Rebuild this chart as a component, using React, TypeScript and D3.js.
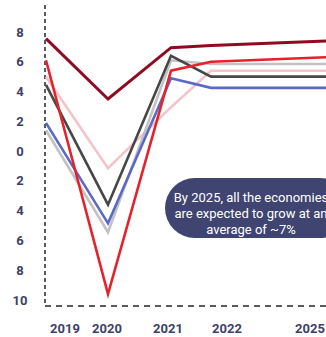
import React from "react";
import * as d3 from "d3";

const years = [2019, 2020, 2021, 2022, 2025];
const yTicks = [8, 6, 4, 2, 0, -2, -4, -6, -8, -10];

const darkRed = [7.55, 3.5, 6.95, 7.1, 7.45];
const red = [6.1, -9.6, 5.4, 6.0, 6.35];
const pink = [5.0, -1.15, 2.95, 5.4, 5.4];
const gray = [1.4, -5.45, 6.1, 5.85, 5.85];
const blue = [1.9, -4.85, 4.9, 4.25, 4.25];
const black = [4.45, -3.6, 6.4, 5.0, 5.0];

const calloutLines = [
  "By 2025, all the economies",
  "are expected to grow at an",
  "average of ~7%",
];

const series = [
  { name: "pink", values: pink, color: "#f5c4ca", width: 2.6 },
  { name: "gray", values: gray, color: "#c2c2c4", width: 2.6 },
  { name: "blue", values: blue, color: "#5b69c6", width: 2.6 },
  { name: "black", values: black, color: "#474747", width: 2.6 },
  { name: "red", values: red, color: "#e5222c", width: 2.6 },
  { name: "darkRed", values: darkRed, color: "#8e0b22", width: 3 },
];

export default function App() {
  const W = 326;
  const H = 337;
  const x = d3.scaleLinear().domain(years).range([46, 108, 171, 211, 345]);
  const xLabel = d3.scaleLinear().domain(years).range([65, 107, 168, 227, 310]);
  const y = d3.scaleLinear().domain([-10, 8]).range([300, 32]);
  const axisColor = "#5a5a5e";
  const labelColor = "#3d4166";
  const line = d3
    .line<number>()
    .x((_, i) => x(years[i]))
    .y((d) => y(d));

  return (
    <svg
      width={W}
      height={H}
      style={{ position: "absolute", left: 0, top: 0, background: "#fff" }}
      fontFamily="Roboto, sans-serif"
    >
      <line
        x1={45}
        x2={45}
        y1={5}
        y2={306}
        stroke={axisColor}
        strokeWidth={2}
        strokeDasharray="4,3"
      />
      <line
        x1={45}
        x2={W}
        y1={306}
        y2={306}
        stroke={axisColor}
        strokeWidth={2}
        strokeDasharray="6,5"
      />
      {yTicks.map((t) => (
        <text
          key={t}
          x={20}
          y={y(t)}
          textAnchor="middle"
          dominantBaseline="central"
          fontSize={13}
          fontWeight="bold"
          fill={labelColor}
        >
          {Math.abs(t)}
        </text>
      ))}
      {years.map((yr) => (
        <text
          key={yr}
          x={xLabel(yr)}
          y={328}
          textAnchor="middle"
          dominantBaseline="central"
          fontSize={13}
          fontWeight="bold"
          fill={labelColor}
        >
          {yr}
        </text>
      ))}
      {series.map((s) => (
        <path
          key={s.name}
          d={line(s.values) || ""}
          fill="none"
          stroke={s.color}
          strokeWidth={s.width}
          strokeLinejoin="miter"
        />
      ))}
      <rect x={165} y={178} width={185} height={60} rx={30} fill="#3f4471" />
      {calloutLines.map((l, i) => (
        <text
          key={i}
          x={251}
          y={197 + i * 16}
          textAnchor="middle"
          dominantBaseline="central"
          fontSize={13}
          fill="#ffffff"
        >
          {l}
        </text>
      ))}
    </svg>
  );
}
